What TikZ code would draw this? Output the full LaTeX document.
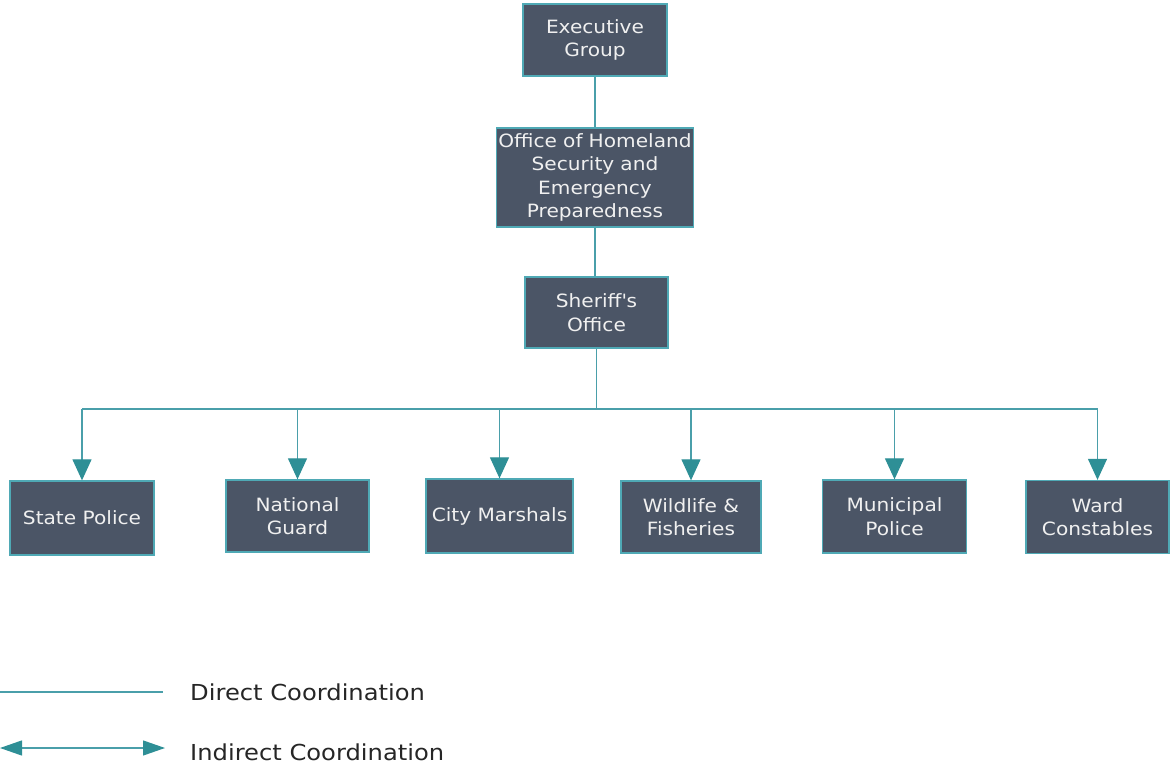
\documentclass[tikz,border=0pt]{standalone}
\usepackage{fontspec}
\setmainfont{DejaVu Sans}[FakeStretch=1.1]
\usetikzlibrary{arrows.meta}
\definecolor{boxfill}{HTML}{4B5566}
\definecolor{boxedge}{HTML}{4FA9B5}
\definecolor{linkc}{HTML}{4A9FAA}
\definecolor{tipc}{HTML}{2E8F96}
\begin{document}
\begin{tikzpicture}[x=1pt,y=-1pt,
  unit/.style={draw=boxedge, line width=1.3pt, fill=boxfill, text=white!94!black,
    font=\fontsize{18.3}{23.5}\selectfont, align=center, inner sep=0pt},
  link/.style={draw=linkc, line width=1.2pt},
  tiparrow/.style={link, -{Triangle[width=19pt,length=21pt,fill=tipc,color=tipc]}},
  legendtext/.style={font=\fontsize{22}{26}\selectfont, text=black!85, anchor=west, inner sep=0pt}]
\useasboundingbox (0,0) rectangle (1171,770);

\node[unit, minimum width=144pt, minimum height=72pt] (exec) at (595,40) {Executive\\Group};
\node[unit, minimum width=197pt, minimum height=99pt, text width=197pt] (ohsep) at (595,177.5)
  {Office of Homeland\\Security and\\Emergency\\Preparedness};
\node[unit, minimum width=143pt, minimum height=71pt] (sheriff) at (596.5,312.5) {Sheriff\textquotesingle s\\Office};

\node[unit, minimum width=144pt, minimum height=74pt] (sp) at (82,518) {State Police};
\node[unit, minimum width=143pt, minimum height=72pt] (ng) at (297.5,516) {National\\Guard};
\node[unit, minimum width=147pt, minimum height=74pt] (cm) at (499.5,516) {City Marshals};
\node[unit, minimum width=140pt, minimum height=72pt] (wf) at (691,517) {Wildlife \&\\Fisheries};
\node[unit, minimum width=144pt, minimum height=73pt] (mp) at (894.5,516.5) {Municipal\\Police};
\node[unit, minimum width=143pt, minimum height=73pt] (wc) at (1097.5,517) {Ward\\Constables};

\coordinate (bus) at (596.5,409);
\draw[link] (exec.south) -- (exec.south |- ohsep.north);
\draw[link] (ohsep.south) -- (ohsep.south |- sheriff.north);
\draw[link] (sheriff.south) -- (bus);
\draw[link] (sp.north |- bus) -- (wc.north |- bus);
\foreach \n in {sp,ng,cm,wf,mp,wc}
  \draw[tiparrow] (\n.north |- bus) -- (\n.north);

\coordinate (l1a) at (0,692);
\coordinate (l1b) at (163,692);
\draw[link] (l1a) -- (l1b);
\node[legendtext] (lt1) at (190,692) {Direct Coordination};

\coordinate (l2a) at (0,748);
\coordinate (l2b) at (165,748);
\draw[link, {Triangle[width=15pt,length=22pt,fill=tipc,color=tipc]}-{Triangle[width=15pt,length=22pt,fill=tipc,color=tipc]}] (l2a) -- (l2b);
\node[legendtext] (lt2) at (190,752) {Indirect Coordination};
\end{tikzpicture}
\end{document}
